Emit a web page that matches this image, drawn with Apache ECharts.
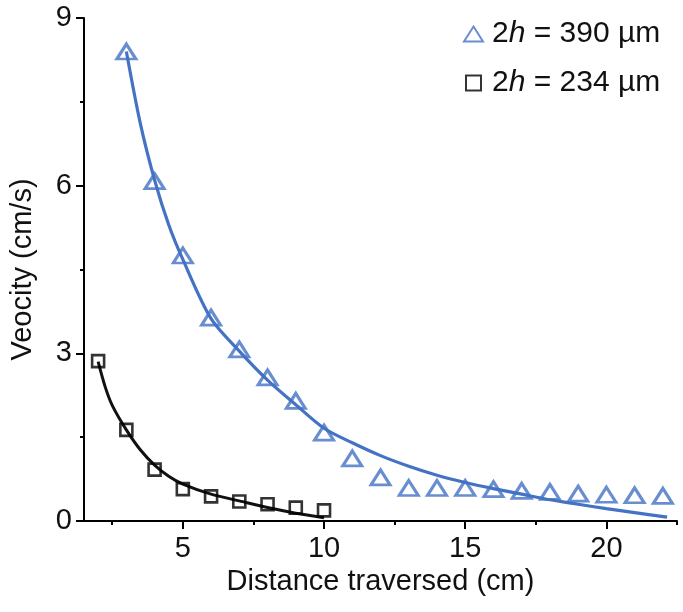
<!DOCTYPE html>
<html><head><meta charset="utf-8">
<script src="https://cdn.jsdelivr.net/npm/echarts@6/dist/echarts.min.js"></script>
<style>html,body{margin:0;padding:0;background:#fff}#c{width:683px;height:612px}</style>
</head><body><div id="c"></div>
<script>
// ---- data ----
const nameA = '2h = 390 µm';
const nameB = '2h = 234 µm';
const triX = [3,4,5,6,7,8,9,10,11,12,13,14,15,16,17,18,19,20,21,22];
const triY = [8.40,6.08,4.75,3.64,3.07,2.57,2.15,1.58,1.12,0.78,0.59,0.59,0.59,0.57,0.54,0.52,0.49,0.47,0.46,0.45];
const sqX = [2,3,4,5,6,7,8,9,10];
const sqY = [2.86,1.63,0.92,0.57,0.44,0.35,0.30,0.24,0.19];
const blueFitX = [3,3.5,4,4.5,5,6,7,8,9,10,11,12,13,14,15,16,17,18,19,20,21,22.15];
const blueFitY = [8.40,7.10,6.10,5.30,4.68,3.62,3.04,2.52,2.08,1.66,1.40,1.17,0.98,0.82,0.69,0.58,0.48,0.38,0.30,0.22,0.15,0.07];
const blackFitX = [2,2.25,2.5,3,3.5,4,4.5,5,6,7,8,9,10];
const blackFitY = [2.85,2.40,2.07,1.63,1.27,1.00,0.80,0.66,0.48,0.36,0.24,0.14,0.06];
const xMajorTicks = [5,10,15,20];
const xMinorTicks = [2.5,7.5,12.5,17.5,22.5];

const zip = (a,b) => a.map((v,i)=>[v,b[i]]);
const BLUE = '#4472C4';
const TXT = '#111';
const FONT = 'Liberation Sans, Arial, sans-serif';
const FS = 29;
const LFS = 30;

const chart = echarts.init(document.getElementById('c'), null, {renderer:'canvas'});
chart.setOption({
  animation:false,
  backgroundColor:'#fff',
  textStyle:{fontFamily:FONT,color:TXT},
  grid:{left:84,right:6,top:18,bottom:91},
  legend:{
    orient:'vertical', left:458, top:14,
    itemWidth:19, itemHeight:15, itemGap:19,
    data:[{name:nameA, icon:'triangle'},{name:nameB, icon:'path://M0,0H10V10H0Z'}],
    formatter: n => n.replace('h', '{i|h}'),
    textStyle:{fontSize:LFS,color:TXT,fontFamily:FONT,padding:[0,0,0,4],
      rich:{i:{fontStyle:'italic',fontSize:LFS,color:TXT,fontFamily:FONT}}}
  },
  xAxis:[{
    type:'value', min:1.5, max:22.5, position:'bottom',
    name:'Distance traversed (cm)', nameLocation:'middle', nameGap:46,
    nameTextStyle:{fontSize:FS,color:TXT,fontFamily:FONT},
    axisLine:{show:true,onZero:false,lineStyle:{color:'#000',width:2}},
    axisTick:{show:true,customValues:xMajorTicks,length:8,lineStyle:{color:'#000',width:2}},
    axisLabel:{customValues:xMajorTicks,fontSize:FS,color:TXT,fontFamily:FONT,margin:13},
    splitLine:{show:false}
  },{
    type:'value', min:1.5, max:22.5, position:'bottom',
    axisLine:{show:false,onZero:false},
    axisTick:{show:true,customValues:xMinorTicks,length:4,lineStyle:{color:'#000',width:2}},
    axisLabel:{show:false},
    splitLine:{show:false}
  }],
  yAxis:{
    type:'value', min:0, max:9, interval:3,
    name:'Veocity (cm/s)', nameLocation:'middle', nameGap:47,
    nameTextStyle:{fontSize:FS,color:TXT,fontFamily:FONT},
    axisLine:{show:true,onZero:false,lineStyle:{color:'#000',width:2}},
    axisTick:{show:true,length:8,lineStyle:{color:'#000',width:2}},
    minorTick:{show:true,splitNumber:2,length:4,lineStyle:{color:'#000',width:2}},
    axisLabel:{fontSize:FS,color:TXT,fontFamily:FONT,margin:12},
    splitLine:{show:false}
  },
  series:[
    {name:nameA,type:'scatter',data:zip(triX,triY),symbol:'triangle',symbolSize:[19,15],
     itemStyle:{color:'rgba(255,255,255,0)',borderColor:BLUE,borderWidth:3},z:3},
    {name:'fitA',type:'line',data:zip(blueFitX,blueFitY),smooth:0.3,showSymbol:false,
     lineStyle:{color:BLUE,width:3.2},itemStyle:{color:BLUE},z:2},
    {name:nameB,type:'scatter',data:zip(sqX,sqY),symbol:'rect',symbolSize:12,
     itemStyle:{color:'rgba(255,255,255,0)',borderColor:'#000',borderWidth:2.6},z:3},
    {name:'fitB',type:'line',data:zip(blackFitX,blackFitY),smooth:0.3,showSymbol:false,
     lineStyle:{color:'#111',width:3},itemStyle:{color:'#111'},z:2}
  ]
});
</script></body></html>
